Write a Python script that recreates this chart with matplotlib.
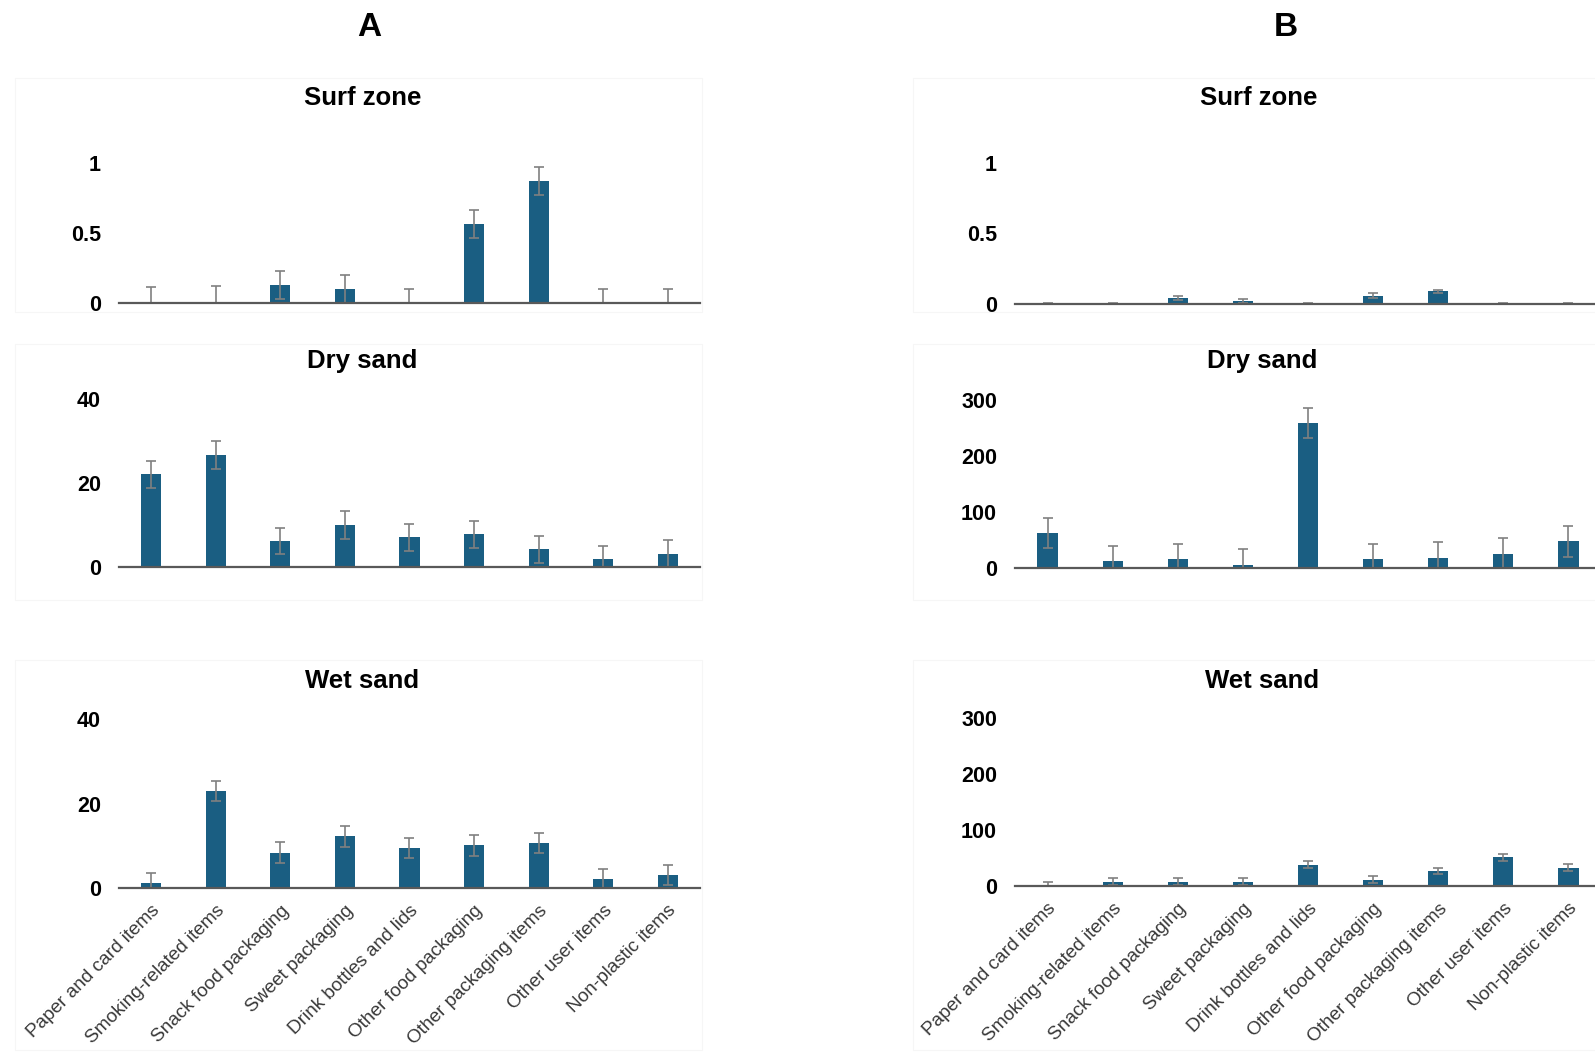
import matplotlib
matplotlib.use("Agg")
import matplotlib.pyplot as plt
from matplotlib.patches import Rectangle
import numpy as np

plt.rcParams['font.family'] = ['Liberation Sans', 'DejaVu Sans']

categories = ['Paper and card items', 'Smoking-related items', 'Snack food packaging',
              'Sweet packaging', 'Drink bottles and lids', 'Other food packaging',
              'Other packaging items', 'Other user items', 'Non-plastic items']

# Column A
surf_a = [0.003, 0.01, 0.13, 0.10, 0.0, 0.56, 0.87, 0.0, 0.0]
surf_a_err = [0.11, 0.11, 0.10, 0.10, 0.10, 0.10, 0.10, 0.10, 0.10]
dry_a = [22.0, 26.6, 6.1, 9.9, 7.0, 7.7, 4.1, 1.7, 3.1]
dry_a_err = [3.2, 3.3, 3.1, 3.3, 3.2, 3.2, 3.2, 3.1, 3.2]
wet_a = [1.2, 22.9, 8.4, 12.3, 9.4, 10.1, 10.6, 2.2, 3.1]
wet_a_err = [2.4, 2.4, 2.4, 2.5, 2.4, 2.4, 2.4, 2.2, 2.4]

# Column B
surf_b = [0.0, 0.0, 0.045, 0.02, 0.0, 0.06, 0.09, 0.0, 0.0]
surf_b_err = [0.01, 0.01, 0.015, 0.012, 0.01, 0.015, 0.012, 0.01, 0.01]
dry_b = [62, 11, 15, 5, 258, 15, 17, 25, 47]
dry_b_err = [27, 27, 27, 28, 27, 27, 28, 28, 28]
wet_b = [0.5, 8, 8, 8, 38, 11, 27, 51, 33]
wet_b_err = [6, 6, 6, 6, 6, 6, 6, 6, 6]

surf_ticks = [0, 0.5, 1]
surf_ticklabels = ['0', '0.5', '1']
a_ticks = [0, 20, 40]
b_ticks = [0, 100, 200, 300]

W, H = 1595, 1052
BAR = '#1a5e82'
ERR = '#808080'

fig = plt.figure(figsize=(W / 100, H / 100), dpi=100)


def px_axes(left, right, top, bottom):
    return fig.add_axes([left / W, 1 - bottom / H, (right - left) / W, (bottom - top) / H])


def frame(left, right, top, bottom):
    fig.patches.append(Rectangle((left / W, 1 - bottom / H), (right - left) / W, (bottom - top) / H,
                                 transform=fig.transFigure, fill=False,
                                 edgecolor='#f6f6f6', linewidth=0.8))


def panel(ax, vals, errs, ymax, ticks, ticklabels=None, xlabels=False):
    x = np.arange(len(vals))
    ax.bar(x, vals, width=0.31, color=BAR, zorder=2)
    ax.errorbar(x, vals, yerr=errs, fmt='none', ecolor=ERR, elinewidth=1.2,
                capsize=3.5, capthick=1.2, zorder=3)
    ax.set_xlim(-0.5, len(vals) - 0.5)
    ax.set_ylim(0, ymax)
    for s in ['top', 'right', 'left']:
        ax.spines[s].set_visible(False)
    ax.spines['bottom'].set_color('#595959')
    ax.spines['bottom'].set_linewidth(1.6)
    ax.spines['bottom'].set_zorder(4)
    ax.set_yticks(ticks)
    if ticklabels is None:
        ticklabels = [str(t) for t in ticks]
    ax.set_yticklabels(ticklabels, fontsize=15.5, fontweight='bold')
    ax.tick_params(axis='y', length=0, pad=13)
    ax.tick_params(axis='x', length=0)
    ax.set_xticks(x)
    if xlabels:
        ax.set_xticklabels(categories, rotation=45, ha='right', rotation_mode='anchor',
                           fontsize=13.7, color='#383838')
        ax.tick_params(axis='x', pad=10)
    else:
        ax.set_xticklabels([])
    ax.patch.set_alpha(0)


# faint chart-area frames
frame(15, 702, 78, 312)
frame(15, 702, 344, 600)
frame(15, 702, 660, 1050)
frame(913, 1600, 78, 312)
frame(913, 1600, 344, 600)
frame(913, 1600, 660, 1050)

# column A
ax = px_axes(119, 700, 303 - 1.05 * 140.4, 303)
panel(ax, surf_a, surf_a_err, 1.05, surf_ticks, surf_ticklabels)
ax = px_axes(119, 700, 566.6 - 42 * 4.197, 566.6)
panel(ax, dry_a, dry_a_err, 42, a_ticks)
ax = px_axes(119, 700, 888 - 42 * 4.22, 888)
panel(ax, wet_a, wet_a_err, 42, a_ticks, xlabels=True)

# column B
ax = px_axes(1015, 1601, 304 - 1.05 * 141.2, 304)
panel(ax, surf_b, surf_b_err, 1.05, surf_ticks, surf_ticklabels)
ax = px_axes(1015, 1601, 567.6 - 315 * 0.5593, 567.6)
panel(ax, dry_b, dry_b_err, 315, b_ticks)
ax = px_axes(1015, 1601, 886 - 315 * 0.56, 886)
panel(ax, wet_b, wet_b_err, 315, b_ticks, xlabels=True)

# headings
fig.text(369 / W, 1 - 27 / H, 'A', fontsize=24, fontweight='bold', ha='center', va='center')
fig.text(1286 / W, 1 - 27 / H, 'B', fontsize=24, fontweight='bold', ha='center', va='center')
for xc, yc, t in [(363, 98, 'Surf zone'), (362, 361, 'Dry sand'), (362, 681, 'Wet sand'),
                  (1259, 98, 'Surf zone'), (1262, 361, 'Dry sand'), (1262, 681, 'Wet sand')]:
    fig.text(xc / W, 1 - yc / H, t, fontsize=18.5, fontweight='bold', ha='center', va='center')

fig.savefig('out.png', dpi=100, facecolor='white')
